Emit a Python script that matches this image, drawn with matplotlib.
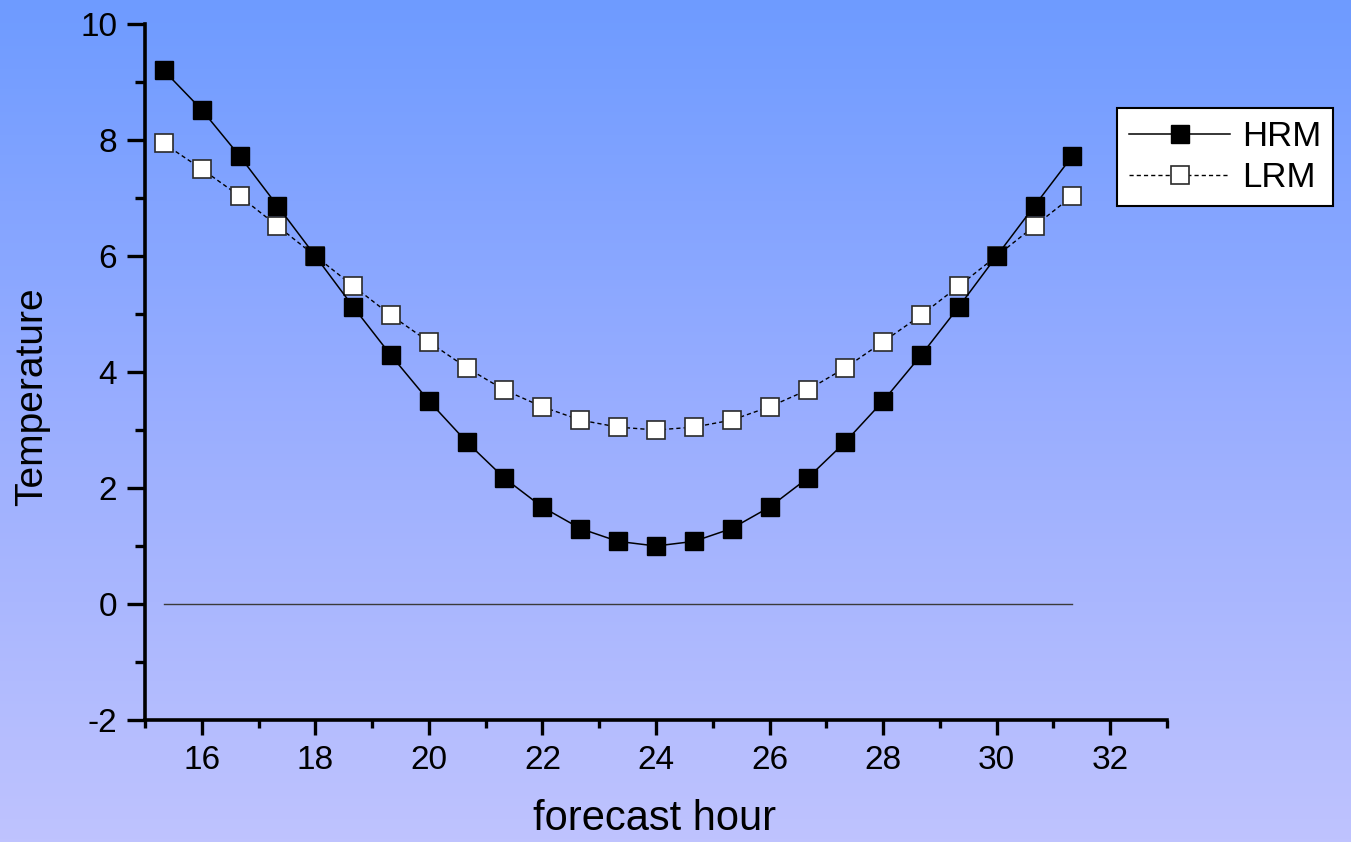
import numpy as np
import matplotlib
matplotlib.use("Agg")
import matplotlib.pyplot as plt
from matplotlib.colors import LinearSegmentedColormap
from matplotlib.ticker import MultipleLocator

# forecast hours (every 40 minutes)
hours = [15.33, 16.0, 16.67, 17.33, 18.0, 18.67, 19.33, 20.0, 20.67, 21.33,
         22.0, 22.67, 23.33, 24.0, 24.67, 25.33, 26.0, 26.67, 27.33, 28.0,
         28.67, 29.33, 30.0, 30.67, 31.33]

hrm = [9.2, 8.52, 7.72, 6.87, 6.0, 5.12, 4.29, 3.5, 2.79, 2.17,
       1.67, 1.3, 1.08, 1.0, 1.08, 1.3, 1.67, 2.17, 2.79, 3.5,
       4.29, 5.12, 6.0, 6.87, 7.72]

lrm = [7.94, 7.5, 7.03, 6.52, 6.0, 5.48, 4.98, 4.52, 4.07, 3.69,
       3.4, 3.17, 3.05, 3.0, 3.05, 3.17, 3.4, 3.69, 4.07, 4.52,
       4.98, 5.48, 6.0, 6.52, 7.03]

baseline = [0.0] * len(hours)

series_names = ["HRM", "LRM"]
x_ticks = [16, 18, 20, 22, 24, 26, 28, 30, 32]
y_ticks = [-2, 0, 2, 4, 6, 8, 10]

plt.rcParams["font.family"] = ["Liberation Sans", "DejaVu Sans"]
plt.rcParams["axes.unicode_minus"] = False

W, H, DPI = 1351, 842, 100
fig = plt.figure(figsize=(W / DPI, H / DPI), dpi=DPI)

# vertical background gradient across the whole figure
bg = fig.add_axes([0, 0, 1, 1], zorder=-10)
cmap = LinearSegmentedColormap.from_list(
    "bg", ["#6e9bff", "#9aaeff", "#bfc3fe"])
grad = np.linspace(0, 1, 256).reshape(-1, 1)
bg.imshow(grad, aspect="auto", cmap=cmap, extent=[0, 1, 1, 0])
bg.set_axis_off()

ax = fig.add_axes([145 / W, 1 - 720 / H, (1167 - 145) / W, (720 - 24) / H])
ax.patch.set_alpha(0)

ax.plot(hours, baseline, color="#3a3a3a", lw=1.0, zorder=2)

ax.plot(hours, hrm, color="black", lw=1.1, ls="-",
        marker="s", ms=12.5, mfc="black", mec="black", mew=1.0,
        label=series_names[0], zorder=4)
ax.plot(hours, lrm, color="black", lw=1.0, ls=(0, (3, 2.2)),
        marker="s", ms=12.5, mfc="white", mec="#2a2a2a", mew=1.2,
        label=series_names[1], zorder=3)

ax.set_xlim(15, 33)
ax.set_ylim(-2, 10)
ax.set_xticks(x_ticks)
ax.set_yticks(y_ticks)
ax.xaxis.set_minor_locator(MultipleLocator(1))
ax.yaxis.set_minor_locator(MultipleLocator(1))

for side in ("top", "right"):
    ax.spines[side].set_visible(False)
for side in ("left", "bottom"):
    ax.spines[side].set_linewidth(2.6)

ax.tick_params(axis="both", which="both", direction="out", width=2.4,
               labelsize=24)
ax.tick_params(axis="y", which="major", length=13, pad=7)
ax.tick_params(axis="y", which="minor", length=7.5)
ax.tick_params(axis="x", which="major", length=11, pad=7)
ax.tick_params(axis="x", which="minor", length=6)

ax.set_xlabel("forecast hour", fontsize=30)
ax.set_ylabel("Temperature", fontsize=28)
ax.xaxis.set_label_coords(0.499, -0.113)
ax.yaxis.set_label_coords(-0.093, 0.465)

leg = ax.legend(loc="upper left", bbox_to_anchor=(1117 / W, 1 - 108 / H),
                bbox_transform=fig.transFigure, fontsize=25,
                frameon=True, fancybox=False, framealpha=1,
                edgecolor="black", borderpad=0.35, handlelength=2.9,
                handletextpad=0.35, labelspacing=0.22, borderaxespad=0)
leg.get_frame().set_linewidth(1.5)

fig.savefig("out.png", dpi=DPI)
